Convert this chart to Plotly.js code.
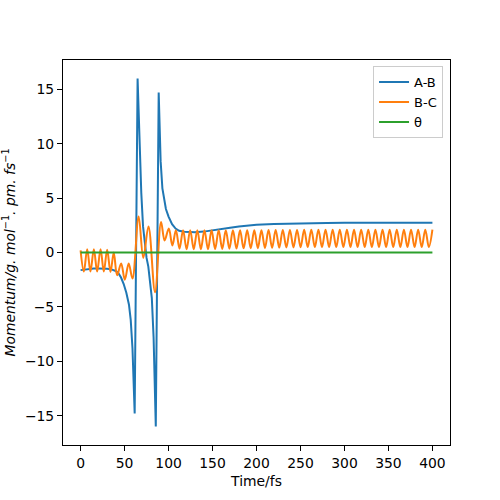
<!DOCTYPE html>
<html>
<head>
<meta charset="utf-8">
<script src="https://cdn.plot.ly/plotly-3.0.1.min.js"></script>
<style>html,body{margin:0;padding:0;background:#fff;}#chart{width:500px;height:500px;}</style>
</head>
<body>
<div id="chart"></div>
<script>
// A-B momentum
const timeAB = [0, 5, 10, 15, 20, 25, 30, 35, 40, 43, 46, 49, 52, 55, 57, 59, 61.5,
  64.8, 67, 69, 71, 73, 75, 77, 79, 81, 83, 85.5,
  88.8, 91, 93, 95, 97, 100, 104, 108, 112, 118, 124, 130, 140, 150, 160, 170, 180,
  190, 200, 220, 240, 260, 280, 300, 350, 400];
const momentumAB = [-1.62, -1.55, -1.5, -1.48, -1.48, -1.48, -1.5, -1.55, -1.7, -1.9, -2.3, -2.9, -3.7, -4.8, -6.2, -8.8, -14.8,
  16.0, 10.0, 5.5, 2.4, 0.8, -0.5, -1.3, -2.6, -4.2, -7.8, -16.0,
  14.7, 8.4, 5.9, 4.7, 4.0, 3.3, 2.6, 2.2, 2.0, 1.9, 1.86, 1.86, 1.92, 2.02, 2.15, 2.28, 2.4,
  2.48, 2.55, 2.62, 2.67, 2.7, 2.72, 2.73, 2.74, 2.74];

// B-C momentum (peaks and troughs of the oscillation)
const timeBC = [0, 3.7, 7.5, 11.2, 15.1, 18.8, 22.7, 26.4, 30.2, 34.0, 37.7, 41.5, 46.1, 50.3, 54.7, 59.0,
  66.0, 71.3, 77.2, 84.6, 91.5, 95.5,
  100.3, 104.35, 108.4, 112.45, 116.5, 120.55, 124.6, 128.65, 132.7, 136.75, 140.8, 144.85,
  148.9, 152.95, 157.0, 161.05, 165.1, 169.15, 173.2, 177.25, 181.3, 185.35, 189.4, 193.45,
  197.5, 201.55, 205.6, 209.65, 213.7, 217.75, 221.8, 225.85, 229.9, 233.95, 238.0, 242.05,
  246.1, 250.15, 254.2, 258.25, 262.3, 266.35, 270.4, 274.45, 278.5, 282.55, 286.6, 290.65,
  294.7, 298.75, 302.8, 306.85, 310.9, 314.95, 319.0, 323.05, 327.1, 331.15, 335.2, 339.25,
  343.3, 347.35, 351.4, 355.45, 359.5, 363.55, 367.6, 371.65, 375.7, 379.75, 383.8, 387.85,
  391.9, 395.95, 400.0];
const momentumBC = [0.2, -1.75, 0.3, -1.75, 0.3, -1.75, 0.3, -1.75, 0.25, -1.8, 0.0, -2.1, -1.0, -2.5, -1.0, -2.4,
  3.3, -0.5, 2.4, -3.65, 2.8, 1.1,
  2.2, 0.65, 2.05, 0.35, 2.05, 0.3, 2.05, 0.3, 2.05, 0.3, 2.05, 0.3,
  2.05, 0.32, 2.05, 0.33, 2.05, 0.35, 2.05, 0.36, 2.05, 0.38, 2.05, 0.4,
  2.05, 0.4, 2.05, 0.42, 2.08, 0.44, 2.08, 0.45, 2.08, 0.46, 2.08, 0.47,
  2.08, 0.48, 2.1, 0.5, 2.1, 0.5, 2.1, 0.5, 2.1, 0.5, 2.1, 0.5,
  2.1, 0.5, 2.1, 0.5, 2.1, 0.5, 2.1, 0.5, 2.1, 0.5, 2.1, 0.5,
  2.1, 0.5, 2.1, 0.5, 2.1, 0.5, 2.1, 0.5, 2.1, 0.5, 2.1, 0.5,
  2.1, 0.5, 2.1];

// theta
const timeTheta = [0, 100, 200, 300, 400];
const momentumTheta = [0, 0, 0, 0, 0];

const xTicks = [0, 50, 100, 150, 200, 250, 300, 350, 400];
const yTicks = [-15, -10, -5, 0, 5, 10, 15];

const font = 'DejaVu Sans, sans-serif';
const fs = 13.9;

const traces = [
  {x: timeAB, y: momentumAB, name: 'A-B', type: 'scatter', mode: 'lines',
   line: {color: '#1f77b4', width: 2}},
  {x: timeBC, y: momentumBC, name: 'B-C', type: 'scatter', mode: 'lines',
   line: {color: '#ff7f0e', width: 2, shape: 'spline', smoothing: 1}},
  {x: timeTheta, y: momentumTheta, name: 'θ', type: 'scatter', mode: 'lines',
   line: {color: '#2ca02c', width: 2}}
];

const axisCommon = {
  showgrid: false, zeroline: false, showline: true, linecolor: '#000', linewidth: 1,
  mirror: true, ticks: 'outside', ticklen: 5, tickwidth: 1, tickcolor: '#000',
  tickfont: {family: font, size: fs, color: '#000'}
};

const layout = {
  width: 500, height: 500,
  margin: {l: 63, r: 50, t: 60, b: 55},
  paper_bgcolor: '#fff', plot_bgcolor: '#fff',
  font: {family: font, size: fs, color: '#000'},
  showlegend: true,
  legend: {x: 0.982, y: 0.984, xanchor: 'right', yanchor: 'top',
    bgcolor: 'rgba(255,255,255,0.8)', bordercolor: '#cccccc', borderwidth: 1,
    itemwidth: 30,
    font: {family: font, size: 13, color: '#000'}},
  xaxis: Object.assign({}, axisCommon, {
    range: [-20, 420], tickvals: xTicks, ticktext: xTicks.map(String),
    title: {text: 'Time/fs', font: {family: font, size: fs, color: '#000'}, standoff: 6}
  }),
  yaxis: Object.assign({}, axisCommon, {
    range: [-17.7, 17.7], tickvals: yTicks,
    ticktext: yTicks.map(v => v < 0 ? '\u2212' + Math.abs(v) : String(v)),
    title: {text: '<i>Momentum/g. mol</i><sup>\u22121</sup><i>. pm. fs</i><sup>\u22121</sup>',
      font: {family: font, size: fs, color: '#000'}, standoff: 16}
  })
};

Plotly.newPlot('chart', traces, layout, {displayModeBar: false, staticPlot: true});
</script>
</body>
</html>
